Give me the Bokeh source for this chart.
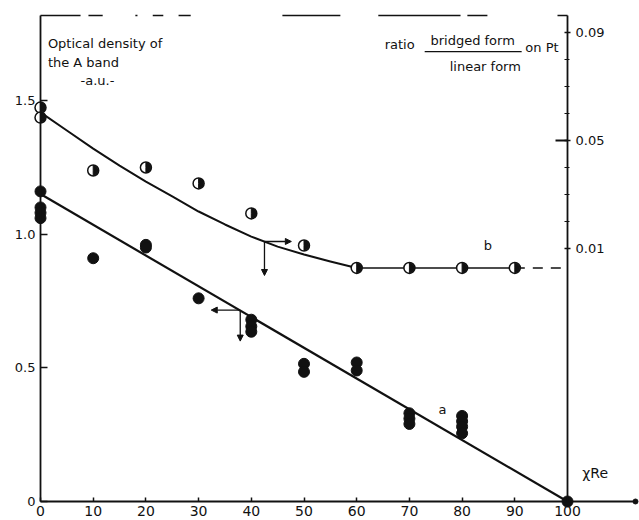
from bokeh.plotting import figure
from bokeh.models import Range1d, LinearAxis, FixedTicker, Arrow, NormalHead, Label
from bokeh.embed import file_html
from bokeh.resources import INLINE

# --- data -------------------------------------------------------------
# curve a: optical density of the A band (a.u.) versus Re content
re_a = [0, 0, 0, 0, 10, 20, 20, 30, 40, 40, 40, 50, 50, 60, 60,
        70, 70, 70, 80, 80, 80, 80, 100]
od_a = [1.16, 1.10, 1.08, 1.06, 0.91, 0.96, 0.95, 0.76, 0.68, 0.655, 0.635,
        0.515, 0.485, 0.52, 0.49, 0.33, 0.31, 0.29, 0.32, 0.30, 0.28, 0.255, 0.0]
fit_a_x = [0, 100]
fit_a_y = [1.15, 0.0]

# curve b: ratio bridged / linear CO on Pt versus Re content
re_b = [0, 0, 10, 20, 30, 40, 50, 60, 70, 80, 90]
ratio_b = [0.0622, 0.0585, 0.0389, 0.0400, 0.0341, 0.0230, 0.0111,
           0.0028, 0.0028, 0.0028, 0.0028]
fit_b_x = [0, 5, 10, 15, 20, 25, 30, 35, 40, 45, 50, 55, 60]
fit_b_y = [0.0604, 0.0537, 0.0470, 0.0407, 0.0348, 0.0293, 0.0237,
           0.0189, 0.0144, 0.0107, 0.0078, 0.0052, 0.0028]
plateau_x = [60, 90]
plateau_y = [0.0028, 0.0028]
tail_x = [90, 100]
tail_y = [0.0028, 0.0028]

# axes
x_ticks = [0, 10, 20, 30, 40, 50, 60, 70, 80, 90, 100]
od_ticks = [0, 0.5, 1.0, 1.5]
od_labels = {0: "0", 0.5: "0.5", 1: "1.0", 1.5: "1.5"}
ratio_ticks = [0.01, 0.05, 0.09]
ratio_minor = [0.02, 0.03, 0.04, 0.06, 0.07, 0.08]

X_END = 112.9          # end of the abscissa line
OD_TOP = 1.818         # top of the frame in OD units
RATIO_LOW, RATIO_TOP = -0.0837, 0.0963

# pieces of the worn top border line (start, end along x)
border_start = [0.0, 9.1, 18.0, 21.3, 26.2, 45.9, 64.1, 81.0, 98.1]
border_end = [7.6, 11.8, 18.4, 23.3, 28.5, 56.9, 79.7, 84.8, 100.0]

FONT = "DejaVu Sans"
INK = "#111111"

p = figure(width=639, height=520, output_backend="svg", toolbar_location=None,
           x_range=Range1d(-7.59, 113.66), y_range=Range1d(-0.0711, 1.8741),
           min_border=0, x_axis_type=None, y_axis_type=None)
p.extra_y_ranges = {"ratio": Range1d(-0.09074, 0.10185)}
p.grid.visible = False
p.outline_line_color = None
p.background_fill_color = "white"
p.border_fill_color = "white"

# left axis: optical density
ax_l = LinearAxis(fixed_location=0, bounds=(0, OD_TOP),
                  ticker=FixedTicker(ticks=od_ticks, minor_ticks=[]))
ax_l.major_label_overrides = od_labels
# bottom axis: Re content
ax_b = LinearAxis(fixed_location=0, bounds=(0, X_END),
                  ticker=FixedTicker(ticks=x_ticks, minor_ticks=[]))
# right axis: ratio
ax_r = LinearAxis(fixed_location=100, bounds=(RATIO_LOW, RATIO_TOP), y_range_name="ratio",
                  ticker=FixedTicker(ticks=ratio_ticks, minor_ticks=ratio_minor))

for ax, tin, tout, fsize in ((ax_l, 7, 0, "13px"), (ax_b, 4, 0, "14px"), (ax_r, 3, 3, "13px")):
    ax.axis_line_color = INK
    ax.axis_line_width = 1.8
    ax.major_tick_line_color = INK
    ax.major_tick_line_width = 1.5
    ax.major_tick_in = tin
    ax.major_tick_out = tout
    ax.minor_tick_line_color = INK
    ax.minor_tick_line_width = 1.2
    ax.minor_tick_in = 3
    ax.minor_tick_out = 2
    ax.major_label_text_font = FONT
    ax.major_label_text_font_size = fsize
    ax.major_label_text_color = INK
    ax.major_label_standoff = 5

p.add_layout(ax_l, "left")
p.add_layout(ax_b, "below")
p.add_layout(ax_r, "right")

# long tick at 0.05 on the ratio axis
p.ray(x=[100], y=[0.05], length=12, length_units="screen", angle=3.14159,
      line_color=INK, line_width=1.8, y_range_name="ratio")

# worn top border
p.segment(x0=border_start, y0=[OD_TOP] * len(border_start),
          x1=border_end, y1=[OD_TOP] * len(border_end),
          line_color=INK, line_width=1.6)
# arrow tip of abscissa
p.scatter(x=[X_END], y=[0], size=5, color=INK)

# curve a
p.line(fit_a_x, fit_a_y, line_color=INK, line_width=2.2)
p.scatter(re_a, od_a, size=11, color=INK)

# curve b
p.line(fit_b_x, fit_b_y, line_color=INK, line_width=2.0, line_join="round",
       y_range_name="ratio")
p.line(plateau_x, plateau_y, line_color=INK, line_width=1.6, y_range_name="ratio")
p.line(tail_x, tail_y, line_color=INK, line_width=1.6, line_dash="10 8",
       y_range_name="ratio")
p.scatter(re_b, ratio_b, size=11, fill_color="white", line_color=INK,
          line_width=1.5, y_range_name="ratio")
p.wedge(re_b, ratio_b, radius=5, radius_units="screen", start_angle=-1.5708,
        end_angle=1.5708, color=INK, y_range_name="ratio")

# arrows pointing to the matching axis
head = dict(size=6, fill_color=INK, line_color=INK)
p.add_layout(Arrow(x_start=42.5, y_start=0.0126, x_end=47.6, y_end=0.0126,
                   end=NormalHead(**head), line_color=INK, line_width=1.3,
                   y_range_name="ratio"))
p.add_layout(Arrow(x_start=42.5, y_start=0.0126, x_end=42.5, y_end=0.0,
                   end=NormalHead(**head), line_color=INK, line_width=1.3,
                   y_range_name="ratio"))
p.add_layout(Arrow(x_start=37.9, y_start=0.716, x_end=32.4, y_end=0.716,
                   end=NormalHead(**head), line_color=INK, line_width=1.3))
p.add_layout(Arrow(x_start=37.9, y_start=0.716, x_end=37.9, y_end=0.60,
                   end=NormalHead(**head), line_color=INK, line_width=1.3))

def txt(x, y, s, size="13px", align="left", rng="default"):
    p.add_layout(Label(x=x, y=y, text=s, text_font=FONT, text_font_size=size,
                       text_color=INK, text_align=align, text_baseline="middle",
                       y_range_name=rng))

txt(1.4, 1.713, "Optical density of")
txt(1.4, 1.642, "the A band")
txt(7.6, 1.575, "-a.u.-")

txt(71.0, 1.709, "ratio", align="right")
txt(82.0, 1.724, "bridged form", align="center")
txt(84.4, 1.627, "linear form", align="center")
p.line(x=[72.9, 91.3], y=[1.683, 1.683], line_color=INK, line_width=1.3)
txt(92.0, 1.698, "on Pt")

txt(84.1, 0.0111, "b", rng="ratio")
txt(75.5, 0.344, "a")
txt(102.8, 0.108, "χRe", size="14px")

open("out.html", "w").write(file_html(p, INLINE))
